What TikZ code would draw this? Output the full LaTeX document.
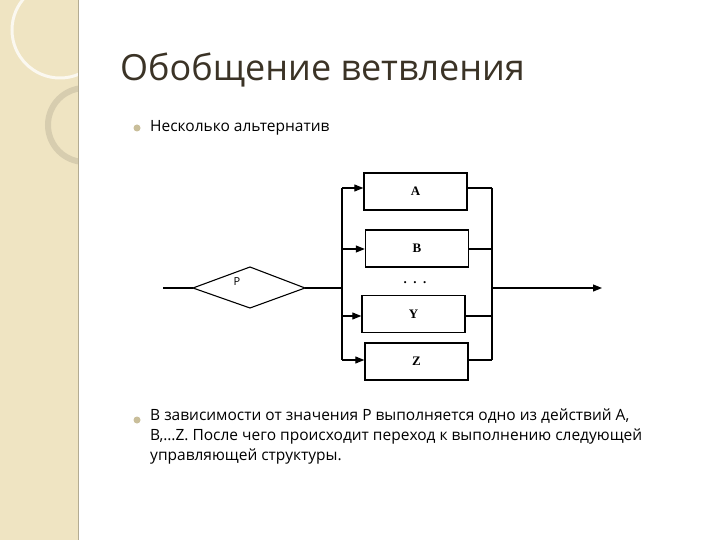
\documentclass[tikz,border=0pt]{standalone}
\usepackage{fontspec}
\setmainfont{Open Sans}
\newfontfamily\serifb{Liberation Serif}
\usetikzlibrary{arrows.meta}
\definecolor{strip}{HTML}{EFE4C2}
\definecolor{titlec}{HTML}{3B3326}
\definecolor{bulc}{HTML}{C9BE9A}
\begin{document}
\begin{tikzpicture}[x=1pt,y=-1pt,
  blk/.style={draw,line width=1.4pt,minimum width=103pt,minimum height=37pt,inner sep=0pt,font=\serifb\bfseries\fontsize{13}{13}\selectfont},
  ln/.style={line width=1.1pt},
  arr/.style={ln,-{Triangle[length=9pt,width=7pt]}},
  txt/.style={font=\fontsize{15.5}{20}\selectfont,anchor=west,inner sep=0pt}]
\useasboundingbox (0,0) rectangle (720,540);
\fill[white] (0,0) rectangle (720,540);
\fill[strip] (0,0) rectangle (78,540);
\begin{scope}
\clip (0,0) rectangle (78,540);
\draw[white!75!strip,line width=3pt] (60,30) circle (48);
\draw[black!10!strip,line width=6pt] (85,125) circle (37);
\end{scope}
\draw[black!25!strip,line width=1pt] (78,0) -- (78,540);
\node[anchor=west,inner sep=0pt,text=titlec,font=\fontsize{36}{36}\selectfont] (title) at (120,70) {Обобщение ветвления};
\fill[bulc] (137,128) circle (3.5);
\node[txt] (t1) at (150,128) {Несколько альтернатив};
\fill[bulc] (137,420) circle (3.5);
\node[txt,align=left,anchor=north west] (t2) at (150,409) {В зависимости от значения Р выполняется одно из действий А,\\В,…Z. После чего происходит переход к выполнению следующей\\управляющей структуры.};
% diagram
\node[blk] (A) at (415.5,191.5) {A};
\node[blk] (B) at (417,248.5) {B};
\node[blk] (Y) at (413.5,314) {Y};
\node[blk] (Z) at (416.5,361.5) {Z};
\node[font=\serifb\bfseries\fontsize{13}{13}\selectfont] (dots) at (415,283) {.\ \ .\ \ .};
\coordinate (in) at (163,288);
\coordinate (L) at (342,288);
\coordinate (R) at (492,288);
\coordinate (out) at (602,288);
\draw[ln] (193,288) -- (250,267) -- (305,288) -- (250,308) -- cycle;
\node[font=\fontsize{11}{11}\selectfont] (P) at (237,282) {P};
\draw[ln] (in) -- (193,288);
\draw[ln] (305,288) -- (L);
\draw[ln] (342,188) -- (342,360);
\draw[ln] (492,188) -- (492,360);
\draw[arr] (342,188) -- (A.west|-342,188);
\draw[arr] (342,249) -- (B.west|-342,249);
\draw[arr] (342,316) -- (Y.west|-342,316);
\draw[arr] (342,360) -- (Z.west|-342,360);
\draw[ln] (A.east|-0,188) -- (492,188);
\draw[ln] (B.east|-0,249) -- (492,249);
\draw[ln] (Y.east|-0,316) -- (492,316);
\draw[ln] (Z.east|-0,360) -- (492,360);
\draw[arr] (R) -- (out);
\end{tikzpicture}
\end{document}
